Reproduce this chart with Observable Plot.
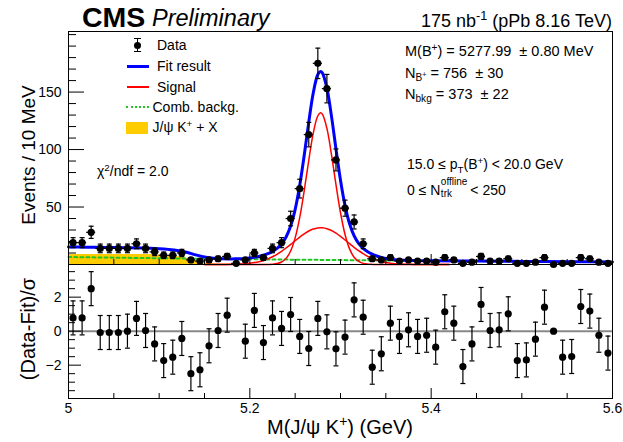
<!DOCTYPE html>
<html>
<head>
<meta charset="utf-8">
<script src="https://cdn.jsdelivr.net/npm/d3@7"></script>
<script src="https://cdn.jsdelivr.net/npm/@observablehq/plot@0.6"></script>
<style>
  html, body { margin: 0; padding: 0; background: #fff; }
  #chart { position: relative; width: 623px; height: 442px; overflow: hidden;
           font-family: "Liberation Sans", Arial, Helvetica, sans-serif; color: #000; }
  #chart svg { position: absolute; left: 0; overflow: visible; }
  .t { position: absolute; white-space: nowrap; line-height: 1; }
  .t sup { font-size: 0.7em; vertical-align: 0; position: relative; top: -0.55em; line-height: 0; }
  .t sub { font-size: 0.7em; vertical-align: 0; position: relative; top: 0.35em; line-height: 0; }
  .stk { display: inline-block; position: relative; width: 30px; height: 0; vertical-align: baseline; }
  .stk span { position: absolute; left: 0.5px; font-size: 10px; line-height: 1; }
  .stk .up { bottom: 8px; }
  .stk .dn { bottom: -3.5px; }
  .sw { position: absolute; }
</style>
</head>
<body>
<div id="chart"></div>
<script>
// Bin centres of the 10 MeV histogram, M(J/psi K+) in GeV
const binCenters = [
  5.005, 5.015, 5.025, 5.035, 5.045, 5.055, 5.065, 5.075, 5.085, 5.095,
  5.105, 5.115, 5.125, 5.135, 5.145, 5.155, 5.165, 5.175, 5.185, 5.195,
  5.205, 5.215, 5.225, 5.235, 5.245, 5.255, 5.265, 5.275, 5.285, 5.295,
  5.305, 5.315, 5.325, 5.335, 5.345, 5.355, 5.365, 5.375, 5.385, 5.395,
  5.405, 5.415, 5.425, 5.435, 5.445, 5.455, 5.465, 5.475, 5.485, 5.495,
  5.505, 5.515, 5.525, 5.535, 5.545, 5.555, 5.565, 5.575, 5.585, 5.595
];
// Events per bin
const counts = [
  19, 19, 28, 14, 14, 14, 14, 18, 14, 11,
   8,  8, 10,  4,  3,  4,  5,  7,  1,  4,
  10,  6, 14, 19, 40, 66, 113, 175, 153, 91,
  49, 37, 18,  5,  4,  6,  3,  4,  3,  3,
   2,  6,  4,  1,  2,  7,  3,  3,  5,  1,
   1,  2,  6,  0,  1,  1,  6,  5,  2,  1
];
// (Data-Fit)/sigma per bin (null: outside the pull window)
const pulls = [
   0.78,  0.78,  2.50, -0.08, -0.08, -0.08,  0.00,  0.75,  0.04, -0.75,
  -1.73, -1.53, -0.43, -2.50, -2.27, -0.86,  0.04,  0.94,  null, -0.59,
   1.22, -0.67,  0.78,  0.16,  0.98, -0.31, -1.02,  0.75, -0.04, -1.04,
  -0.35,  1.84,  0.82, -2.12, -1.33,  0.47, -0.31,  0.08, -0.31, -0.24,
  -0.94,  1.14,  0.47, -2.08, -0.75,  1.57,  0.04,  0.08,  1.02, -1.73,
  -1.69, -0.47,  1.41,  0.00, -1.53, -1.49,  1.45,  1.18, -0.24, -1.29
];
const pullErrors = [
  1, 1, 1, 1, 1, 1, 1, 1, 1, 1,
  1, 1, 1, 1, 1, 1, 1, 1, 1, 1,
  1, 1, 1, 1, 1, 1, 1, 1, 1, 1,
  1, 1, 1, 1, 1, 1, 1, 1, 1, 1,
  1, 1, 1, 1, 1, 1, 1, 1, 1, 1,
  1, 1, 1, 0, 1, 1, 1, 1, 1, 1
];

// Total fit curve
const fitX = [
  5.000, 5.020, 5.040, 5.060, 5.080, 5.090, 5.100, 5.110, 5.120, 5.130,
  5.140, 5.150, 5.160, 5.170, 5.180, 5.185, 5.190, 5.195, 5.200, 5.205,
  5.210, 5.215, 5.220, 5.225, 5.230, 5.235, 5.240, 5.245, 5.250, 5.255,
  5.260, 5.265, 5.270, 5.275, 5.278, 5.280, 5.285, 5.290, 5.295, 5.300,
  5.305, 5.310, 5.315, 5.320, 5.325, 5.330, 5.335, 5.340, 5.345, 5.350,
  5.355, 5.360, 5.365, 5.370, 5.375, 5.380, 5.390, 5.400, 5.450, 5.500,
  5.550, 5.600
];
const fitTotal = [
  15.30, 15.08, 14.86, 14.65, 14.40, 14.15, 13.76, 13.16, 12.27, 10.68,
   8.39,  6.50,  5.42,  5.03,  4.89,  4.96,  5.09,  5.32,  5.67,  6.20,
   6.96,  8.01,  9.44, 11.36, 14.03, 17.94, 23.95, 33.44, 48.02, 68.75,
  95.11, 123.88, 149.43, 165.25, 167.99, 166.71, 153.49, 129.30, 100.59, 73.33,
  51.27, 35.46, 25.01, 18.34, 14.03, 11.09,  8.98,  7.40,  6.21,  5.32,
   4.68,  4.22,  3.91,  3.69,  3.54,  3.44,  3.31,  3.23,  2.96,  2.71,
   2.48,  2.27
];

// Signal components (narrow and wide Gaussian)
const sigX = [
  5.150, 5.160, 5.170, 5.180, 5.185, 5.190, 5.195, 5.200, 5.205, 5.210,
  5.215, 5.220, 5.225, 5.230, 5.235, 5.240, 5.245, 5.250, 5.255, 5.260,
  5.265, 5.270, 5.275, 5.278, 5.280, 5.285, 5.290, 5.295, 5.300, 5.305,
  5.310, 5.315, 5.320, 5.325, 5.330, 5.335, 5.340, 5.345, 5.350, 5.355,
  5.360, 5.365, 5.370, 5.375, 5.380, 5.390, 5.400, 5.420
];
const sigNarrow = [
  0, 0, 0, 0, 0, 0, 0, 0, 0, 0.005,
  0.02, 0.075, 0.26, 0.79, 2.17, 5.33, 11.74, 23.13, 40.74, 64.26,
  90.67, 114.5, 129.4, 132.0, 130.8, 118.4, 95.85, 69.46, 45.02, 26.12,
  13.56, 6.30, 2.62, 0.97, 0.32, 0.10, 0.03, 0.01, 0, 0,
  0, 0, 0, 0, 0, 0, 0, 0
];
const sigWide = [
  0, 0.01, 0.05, 0.15, 0.26, 0.43, 0.70, 1.09, 1.66, 2.45,
  3.53, 4.94, 6.72, 8.90, 11.46, 14.35, 17.47, 20.70, 23.85, 26.73,
  29.13, 30.88, 31.84, 32.0, 31.93, 31.14, 29.54, 27.25, 24.46, 21.34,
  18.12, 14.96, 12.01, 9.38, 7.12, 5.26, 3.78, 2.64, 1.80, 1.19,
  0.76, 0.48, 0.29, 0.17, 0.10, 0.03, 0.01, 0
];

// Combinatorial background
const combX = [5.00, 5.05, 5.10, 5.15, 5.20, 5.25, 5.30, 5.35, 5.40, 5.45, 5.50, 5.55, 5.60];
const combY = [6.50, 5.95, 5.46, 5.00, 4.58, 4.20, 3.85, 3.52, 3.23, 2.96, 2.71, 2.48, 2.27];

// Partially reconstructed J/psi K+ + X component
const jpsiXX = [5.00, 5.02, 5.04, 5.06, 5.08, 5.09, 5.10, 5.11, 5.12, 5.13, 5.14, 5.15, 5.16, 5.17, 5.18];
const jpsiXY = [8.8, 8.8, 8.8, 8.8, 8.75, 8.6, 8.3, 7.8, 7.0, 5.5, 3.3, 1.5, 0.5, 0.15, 0];

// Axis ticks
const xMinorTicks = [5.05, 5.1, 5.15, 5.25, 5.3, 5.35, 5.45, 5.5, 5.55];
const xMajorTicks = [5.0, 5.2, 5.4, 5.6];
const yMajorTicks = [50, 100, 150];
const yMinorTicks = [10, 20, 30, 40, 60, 70, 80, 90, 110, 120, 130, 140, 160, 170, 180, 190, 200];
const pullMajorTicks = [-2, 0, 2];
const pullMinorTicks = [-3.5, -3, -2.5, -1.5, -1, -0.5, 0.5, 1, 1.5, 2.5, 3, 3.5];

// ---------------------------------------------------------------------------
const W = 623, ML = 68, MR = 11;
const innerW = W - ML - MR;
const upperTop = 31, upperH = 264, upperInner = upperH - upperTop;
const lowerH = 178, lowerMB = 44, lowerInner = lowerH - lowerMB;

const zip = (xs, ys) => xs.map((x, i) => ({x, y: ys[i]}));
const dataRows = binCenters.map((x, i) => ({x, n: counts[i], e: Math.sqrt(counts[i])}));
const pullRows = binCenters.map((x, i) => ({x, p: pulls[i], e: pullErrors[i]})).filter(d => d.p != null);

// short horizontal line used as error-bar cap
const capSymbol = {
  draw(ctx, size) { const w = Math.sqrt(size / Math.PI); ctx.moveTo(-w, 0); ctx.lineTo(w, 0); }
};
const font = {fontFamily: '"Liberation Sans", Arial, Helvetica, sans-serif', fontSize: "14px", background: "transparent", overflow: "visible"};

const upper = Plot.plot({
  width: W, height: upperH,
  marginLeft: ML, marginRight: MR, marginTop: upperTop, marginBottom: 0,
  x: {domain: [5.0, 5.6], axis: null},
  y: {domain: [0, 202.7]},
  style: font,
  marks: [
    Plot.areaY(zip(jpsiXX, jpsiXY), {x: "x", y: "y", fill: "#ffcc00", curve: "monotone-x"}),
    Plot.line(zip(combX, combY), {x: "x", y: "y", stroke: "#22c622", strokeWidth: 2, strokeDasharray: "3,3", curve: "catmull-rom"}),
    Plot.line(zip(sigX, sigWide), {x: "x", y: "y", stroke: "#ff0000", strokeWidth: 1.5, curve: "catmull-rom"}),
    Plot.line(zip(sigX, sigNarrow), {x: "x", y: "y", stroke: "#ff0000", strokeWidth: 1.5, curve: "catmull-rom"}),
    Plot.line(zip(fitX, fitTotal), {x: "x", y: "y", stroke: "#0000ff", strokeWidth: 3, curve: "catmull-rom"}),
    Plot.ruleX(dataRows, {x: "x", y1: d => d.n - d.e, y2: d => d.n + d.e, stroke: "#000", strokeWidth: 1.2}),
    Plot.ruleY(dataRows, {y: "n", x1: d => d.x - 0.005, x2: d => d.x + 0.005, stroke: "#000", strokeWidth: 1.2}),
    Plot.dot(dataRows, {x: "x", y: d => d.n + d.e, symbol: capSymbol, r: 2.5, stroke: "#000", strokeWidth: 1.2, fill: "none"}),
    Plot.dot(dataRows, {x: "x", y: d => d.n - d.e, symbol: capSymbol, r: 2.5, stroke: "#000", strokeWidth: 1.2, fill: "none"}),
    Plot.dot(dataRows, {x: "x", y: "n", r: 3.6, fill: "#000", stroke: "none"}),
    Plot.tickY(yMinorTicks, {y: d => d, insetRight: innerW - 8, stroke: "#000"}),
    Plot.tickY(yMajorTicks, {y: d => d, insetRight: innerW - 16, stroke: "#000"}),
    Plot.tickX(xMinorTicks, {x: d => d, insetTop: upperInner - 5, stroke: "#000"}),
    Plot.tickX(xMajorTicks, {x: d => d, insetTop: upperInner - 10, stroke: "#000"}),
    Plot.axisY({ticks: yMajorTicks, tickSize: 0, tickPadding: 7, label: null, fontSize: 14}),
    Plot.frame({stroke: "#000"})
  ]
});

const lower = Plot.plot({
  width: W, height: lowerH,
  marginLeft: ML, marginRight: MR, marginTop: 0, marginBottom: lowerMB,
  x: {domain: [5.0, 5.6]},
  y: {domain: [-3.96, 3.92]},
  style: font,
  marks: [
    Plot.ruleY([0], {stroke: "#888", strokeWidth: 2}),
    Plot.ruleX(pullRows, {x: "x", y1: d => d.p - d.e, y2: d => d.p + d.e, stroke: "#000", strokeWidth: 1.2}),
    Plot.dot(pullRows.filter(d => d.e > 0), {x: "x", y: d => d.p + d.e, symbol: capSymbol, r: 2.5, stroke: "#000", strokeWidth: 1.2, fill: "none"}),
    Plot.dot(pullRows.filter(d => d.e > 0), {x: "x", y: d => d.p - d.e, symbol: capSymbol, r: 2.5, stroke: "#000", strokeWidth: 1.2, fill: "none"}),
    Plot.dot(pullRows, {x: "x", y: "p", r: 3.6, fill: "#000", stroke: "none"}),
    Plot.tickY(pullMinorTicks, {y: d => d, insetRight: innerW - 7, stroke: "#000"}),
    Plot.tickY(pullMajorTicks, {y: d => d, insetRight: innerW - 13, stroke: "#000"}),
    Plot.tickX(xMinorTicks, {x: d => d, insetTop: lowerInner - 5, stroke: "#000"}),
    Plot.tickX(xMajorTicks, {x: d => d, insetTop: lowerInner - 10, stroke: "#000"}),
    Plot.axisY({ticks: pullMajorTicks, tickSize: 0, tickPadding: 7, label: null, fontSize: 14,
                tickFormat: d => d < 0 ? "\u2212" + (-d) : String(d)}),
    Plot.axisX({ticks: xMajorTicks, tickSize: 0, tickPadding: 5, label: null, fontSize: 14,
                tickFormat: d => d === 5 ? "5" : d.toFixed(1)}),
    Plot.frame({stroke: "#000"})
  ]
});

const chart = document.getElementById("chart");
upper.style.top = "0px";
lower.style.top = upperH + "px";
chart.appendChild(upper);
chart.appendChild(lower);

// ---------------------------------------------------------------------------
// Text placed by its baseline
function addText(html, o) {
  const el = document.createElement("div");
  el.className = "t";
  el.innerHTML = html;
  el.style.fontSize = o.size + "px";
  el.style.top = (o.baseline - 0.8465 * o.size) + "px";
  if (o.center != null) { el.style.left = o.center + "px"; el.style.transform = "translateX(-50%)"; }
  else if (o.right != null) el.style.right = o.right + "px";
  else el.style.left = o.left + "px";
  if (o.bold) el.style.fontWeight = "bold";
  if (o.italic) el.style.fontStyle = "italic";
  chart.appendChild(el);
  return el;
}
function addVText(html, cx, cy, size) {
  const el = document.createElement("div");
  el.className = "t";
  el.innerHTML = html;
  el.style.fontSize = size + "px";
  el.style.left = cx + "px";
  el.style.top = cy + "px";
  el.style.transform = "translate(-50%, -50%) rotate(-90deg)";
  chart.appendChild(el);
}
function addBox(css) {
  const el = document.createElement("div");
  el.className = "sw";
  Object.assign(el.style, css);
  chart.appendChild(el);
}

addText("CMS", {left: 82, baseline: 27, size: 28.5, bold: true});
addText("Preliminary", {left: 152, baseline: 27, size: 23.5, italic: true});
addText("175 nb<sup>-1</sup> (pPb 8.16 TeV)", {right: 11, baseline: 27, size: 18});

// legend
addBox({left: "137px", top: "38px", width: "1.3px", height: "14px", background: "#000"});
addBox({left: "134.3px", top: "38px", width: "7px", height: "1.2px", background: "#000"});
addBox({left: "134.3px", top: "51px", width: "7px", height: "1.2px", background: "#000"});
addBox({left: "134px", top: "41.5px", width: "7.2px", height: "7.2px", borderRadius: "50%", background: "#000"});
addBox({left: "126.5px", top: "64.5px", width: "22px", height: "3px", background: "#0000ff"});
addBox({left: "126.5px", top: "85.5px", width: "22px", height: "2px", background: "#ff0000"});
addBox({left: "125.5px", top: "106px", width: "23px", height: "0", borderTop: "2px dotted #22c622"});
addBox({left: "126px", top: "121.5px", width: "22px", height: "12.5px", background: "#ffcc00"});
addText("Data", {left: 157, baseline: 50, size: 14});
addText("Fit result", {left: 157, baseline: 71, size: 14});
addText("Signal", {left: 157, baseline: 91.5, size: 14});
addText("Comb. backg.", {left: 152.5, baseline: 112, size: 14});
addText("J/\u03c8 K<sup>+</sup> + X", {left: 152.5, baseline: 132, size: 14});

// fit results
addText("M(B<sup>+</sup>) = 5277.99&nbsp; \u00b1 0.80 MeV", {left: 405, baseline: 56.5, size: 14.5});
addText("N<sub>B<sup>+</sup></sub> = 756&nbsp; \u00b1 30", {left: 405, baseline: 78, size: 14.5});
addText("N<sub>bkg</sub> = 373&nbsp; \u00b1 22", {left: 405, baseline: 99, size: 14.5});
addText("\u03c7<sup>2</sup>/ndf = 2.0", {left: 97, baseline: 176, size: 14});
addText("15.0 \u2264 p<sub>T</sub>(B<sup>+</sup>) &lt; 20.0 GeV", {left: 407, baseline: 169, size: 14});
addText("0 \u2264 N<span class=\"stk\"><span class=\"up\">offline</span><span class=\"dn\">trk</span></span>&lt; 250", {left: 407, baseline: 195, size: 14});

// axis titles
addText("M(J/\u03c8 K<sup>+</sup>) (GeV)", {center: 340, baseline: 434, size: 20});
addVText("Events / 10 MeV", 28, 155, 19);
addVText("(Data-Fit)/\u03c3", 28, 329, 20);
</script>
</body>
</html>
